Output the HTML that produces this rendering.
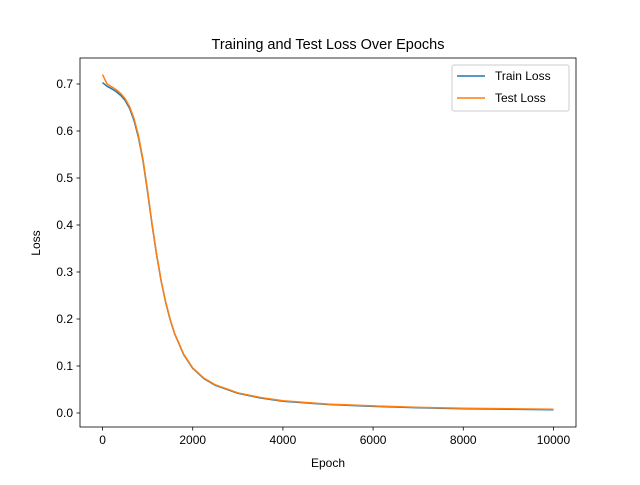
<!DOCTYPE html>
<html><head><meta charset="utf-8"><style>
body{margin:0;background:#fff}
svg text{font-family:"Liberation Sans","DejaVu Sans",sans-serif;fill:#000}
</style></head><body>
<svg id="chart" width="640" height="480" xmlns="http://www.w3.org/2000/svg">
<rect width="640" height="480" fill="#fff"/>
<text x="328" y="49" font-size="14.5" text-anchor="middle">Training and Test Loss Over Epochs</text>
<g id="plot"></g>
<rect x="80" y="58" width="496" height="369" fill="none" stroke="#000" stroke-width="0.8"/>
<text x="328" y="467" font-size="12" text-anchor="middle">Epoch</text>
<text x="40" y="243" font-size="12" text-anchor="middle" transform="rotate(-90 40 243)">Loss</text>
<g>
<rect x="452" y="65" width="117" height="46" rx="2" fill="#fff" stroke="#ccc"/>
<line x1="457" y1="76" x2="485" y2="76" stroke="#1f77b4" stroke-width="1.5"/>
<text x="495" y="80" font-size="12">Train Loss</text>
<line x1="457" y1="98" x2="485" y2="98" stroke="#ff7f0e" stroke-width="1.5"/>
<text x="495" y="102" font-size="12">Test Loss</text>
</g>
</svg>
<script>
const epochs=[0,100,200,300,400,500,600,700,800,900,1000,1100,1200,1300,1400,1500,1600,1800,2000,2250,2500,3000,3500,4000,5000,6000,7000,8000,9000,10000];
const trainLoss=[0.703,0.695,0.690,0.684,0.676,0.665,0.648,0.622,0.585,0.535,0.470,0.400,0.335,0.280,0.235,0.198,0.168,0.124,0.095,0.073,0.059,0.042,0.032,0.025,0.018,0.014,0.011,0.009,0.008,0.007];
const testLoss=[0.720,0.700,0.694,0.688,0.680,0.669,0.652,0.626,0.589,0.538,0.473,0.402,0.337,0.281,0.236,0.199,0.169,0.125,0.096,0.074,0.060,0.043,0.033,0.026,0.019,0.015,0.012,0.010,0.009,0.008];
const xTicks=[0,2000,4000,6000,8000,10000];
const yTicks=[0.0,0.1,0.2,0.3,0.4,0.5,0.6,0.7];
const X0=80,X1=576,Y0=427,Y1=58,xmin=-500,xmax=10500,ymin=-0.0298,ymax=0.7553;
const xs=v=>X0+(v-xmin)/(xmax-xmin)*(X1-X0);
const ys=v=>Y0-(v-ymin)/(ymax-ymin)*(Y0-Y1);
const NS="http://www.w3.org/2000/svg";
const g=document.getElementById('plot');
function mk(t,a){const e=document.createElementNS(NS,t);for(const k in a)e.setAttribute(k,a[k]);g.appendChild(e);return e;}
xTicks.forEach(v=>{const x=xs(v);
const l=mk('line',{x1:x,x2:x,y1:Y0,y2:Y0+3.5,stroke:'#000','stroke-width':0.8});


const t=mk('text',{x:x,y:Y0+17,'font-size':12,'text-anchor':'middle'});t.textContent=v;

});
yTicks.forEach(v=>{const y=ys(v);
const l=mk('line',{x1:X0-3.5,x2:X0,y1:y,y2:y,stroke:'#000','stroke-width':0.8});


const t=mk('text',{x:X0-7,y:y+4,'font-size':12,'text-anchor':'end'});t.textContent=v.toFixed(1);

});
function line(vals,color,name){const d=epochs.map((e,i)=>(i?'L':'M')+xs(e).toFixed(1)+','+ys(vals[i]).toFixed(1)).join('');
const p=mk('path',{d:d,fill:'none',stroke:color,'stroke-width':1.5,'stroke-linejoin':'round'});

}
line(trainLoss,'#1f77b4','train-loss-line');
line(testLoss,'#ff7f0e','test-loss-line');
</script>
</body></html>
